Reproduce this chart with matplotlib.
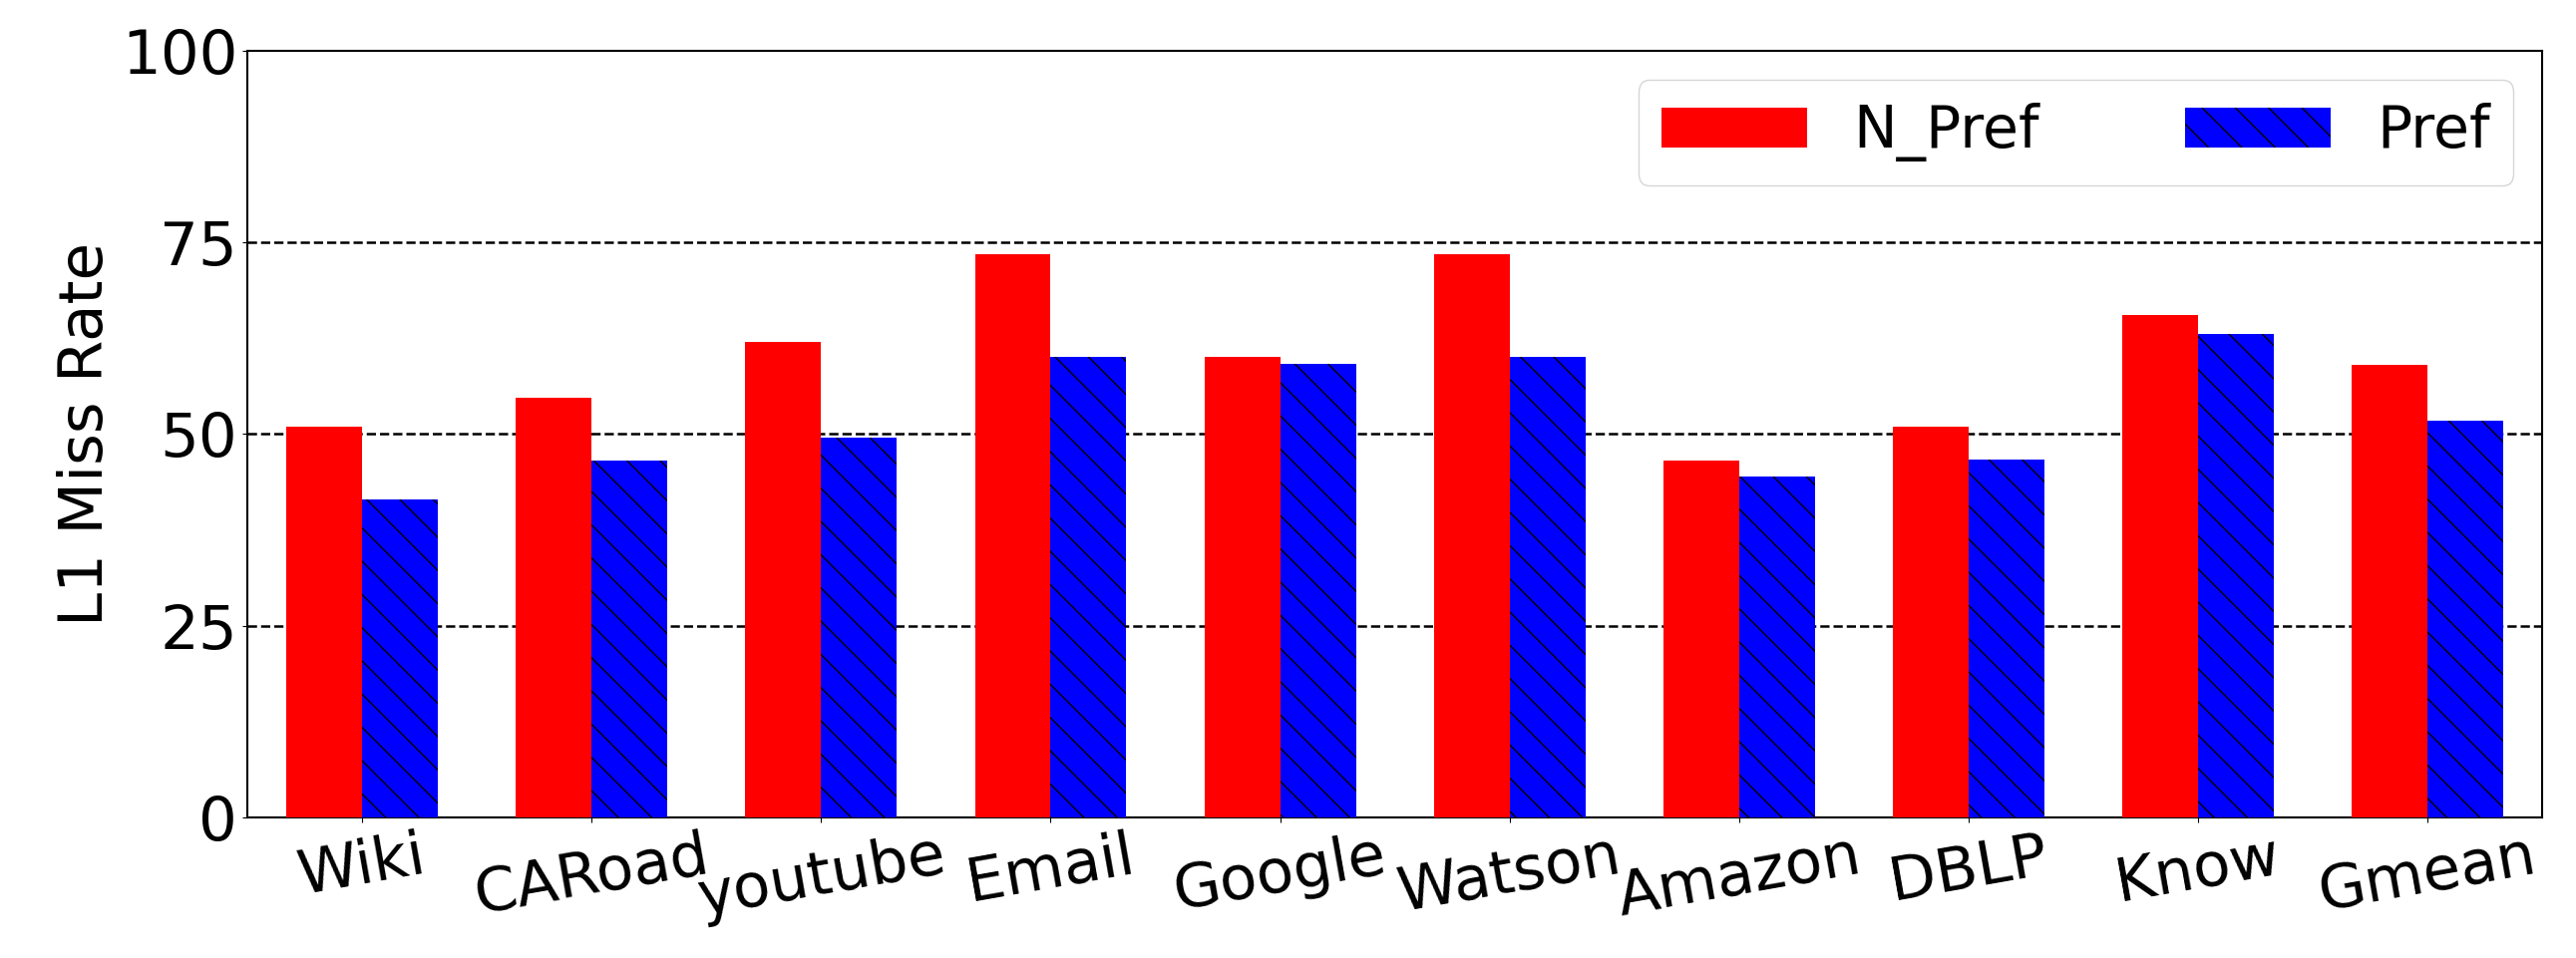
import numpy as np
import matplotlib
matplotlib.use("Agg")
import matplotlib.pyplot as plt

categories = ["Wiki", "CARoad", "youtube", "Email", "Google", "Watson", "Amazon", "DBLP", "Know", "Gmean"]
n_pref = [51.0, 54.7, 62.0, 73.5, 60.0, 73.5, 46.5, 51.0, 65.5, 59.0]
pref = [41.5, 46.5, 49.5, 60.0, 59.2, 60.0, 44.5, 46.7, 63.0, 51.7]

plt.rcParams['hatch.linewidth'] = 1.0
fig = plt.figure(figsize=(25.83, 9.61), dpi=100)
ax = fig.add_axes([0.096, 0.147, 0.891, 0.80])

x = np.arange(len(categories))
w = 0.33
ax.bar(x - w / 2, n_pref, w, color="red", label="N_Pref", zorder=3)
ax.bar(x + w / 2, pref, w, color="blue", hatch="\\", edgecolor="black", linewidth=0,
       label="Pref", zorder=3)

ax.set_ylim(0, 100)
ax.set_xlim(-0.5, len(categories) - 0.5)
ax.set_yticks([0, 25, 50, 75, 100])
for y in [25, 50, 75]:
    ax.axhline(y, color="black", linestyle="--", linewidth=1.8, zorder=1)
ax.set_xticks(x)
ax.set_xticklabels(categories, rotation=10, fontsize=44)
ax.tick_params(axis="y", labelsize=44)
ax.set_ylabel("L1 Miss Rate", fontsize=44)
for s in ax.spines.values():
    s.set_linewidth(1.5)
ax.legend(ncol=2, fontsize=42, loc="upper right", handlelength=2.5, columnspacing=2.5)

fig.savefig("out.png", dpi=100)
